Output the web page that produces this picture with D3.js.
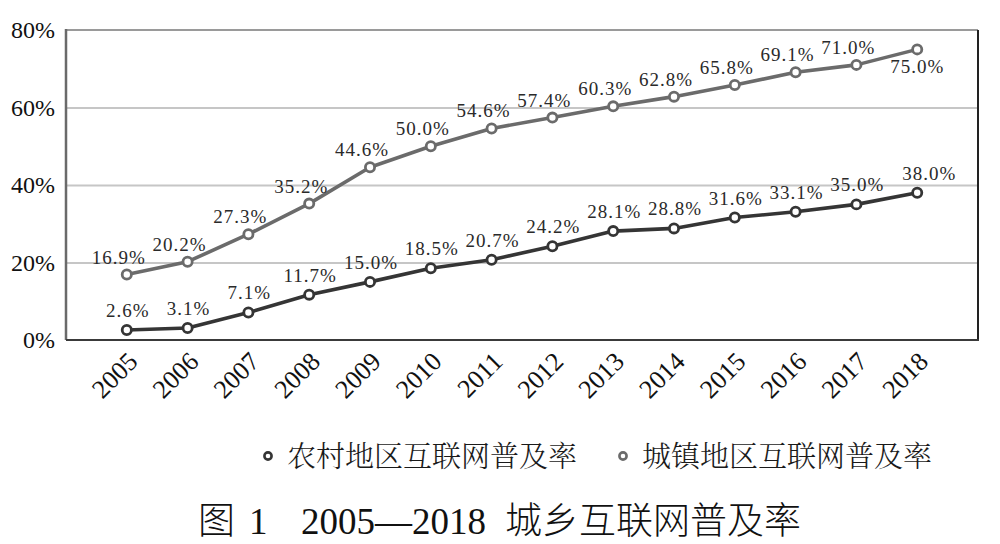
<!DOCTYPE html>
<html>
<head>
<meta charset="utf-8">
<script src="https://cdn.jsdelivr.net/npm/d3@7"></script>
<style>
  html, body { margin: 0; padding: 0; background: #fff; }
  svg { display: block; }
</style>
</head>
<body>
<svg id="chart" width="1000" height="544"></svg>
<script>
const years = ["2005","2006","2007","2008","2009","2010","2011","2012","2013","2014","2015","2016","2017","2018"];
const rural = [2.6, 3.1, 7.1, 11.7, 15.0, 18.5, 20.7, 24.2, 28.1, 28.8, 31.6, 33.1, 35.0, 38.0];
const urban = [16.9, 20.2, 27.3, 35.2, 44.6, 50.0, 54.6, 57.4, 60.3, 62.8, 65.8, 69.1, 71.0, 75.0];
const yTicks = [0, 20, 40, 60, 80];
const seriesNames = ["农村地区互联网普及率", "城镇地区互联网普及率"];
const titleFig = "图";
const titleNum = "1";
const titleYears = "2005—2018";
const titleText = "城乡互联网普及率";

const svg = d3.select("#chart");
const L = 66, R = 978, T = 30, B = 340;

const x = d3.scalePoint().domain(years).range([L, R]).padding(1);
const y = d3.scaleLinear().domain([0, 80]).range([B, T]);

const serif = "'Liberation Serif', 'DejaVu Serif', serif";
const cjkSerif = "'Noto Serif CJK SC', 'Noto Sans CJK SC', sans-serif";
const cjkSans = "'Noto Sans CJK SC', sans-serif";

// gridlines
const grid = svg.append("g").attr("transform", `translate(${L},0)`)
  .call(d3.axisLeft(y).tickValues(yTicks.filter(v => v > 0 && v < 80)).tickSize(-(R - L)).tickFormat(""));
grid.select(".domain").remove();
grid.selectAll("line").attr("stroke", "#c6c6c6").attr("stroke-width", 2);

// frame
svg.append("line").attr("x1", L).attr("x2", R).attr("y1", T).attr("y2", T).attr("stroke", "#9a9a9a").attr("stroke-width", 2);
svg.append("line").attr("x1", R).attr("x2", R).attr("y1", T).attr("y2", B).attr("stroke", "#222").attr("stroke-width", 2);
svg.append("line").attr("x1", L).attr("x2", L).attr("y1", T - 1).attr("y2", B).attr("stroke", "#6a6a6a").attr("stroke-width", 2.5);
svg.append("line").attr("x1", L).attr("x2", R + 1).attr("y1", B).attr("y2", B).attr("stroke", "#3a3a3a").attr("stroke-width", 2);

// y axis labels
const ya = svg.append("g").attr("transform", `translate(${L},0)`)
  .attr("font-family", serif)
  .call(d3.axisLeft(y).tickValues(yTicks).tickSize(0).tickPadding(11).tickFormat(d => d + "%"));
ya.attr("font-family", serif);
ya.select(".domain").remove();
ya.selectAll("text").attr("font-family", serif).attr("font-size", 24).attr("fill", "#111").attr("dy", "0.32em");

// x axis labels
const xa = svg.append("g").attr("transform", `translate(0,${B})`)
  .call(d3.axisBottom(x).tickSize(0).tickFormat(d => d));
xa.attr("font-family", serif);
xa.select(".domain").remove();
xa.selectAll("text")
  .attr("font-family", serif).attr("font-size", 26).attr("fill", "#111")
  .attr("text-anchor", "end").attr("dy", null).attr("y", null)
  .attr("transform", "translate(12,23) rotate(-45)");

const series = [
  { name: seriesNames[0], values: rural, color: "#353535", labelDx: 1, labelDy: -13 },
  { name: seriesNames[1], values: urban, color: "#6b6b6b", labelDx: -8, labelDy: -11 }
];

const line = d3.line().x((d, i) => x(years[i])).y(d => y(d));

series.slice().reverse().forEach(s => {
  svg.append("path").datum(s.values).attr("d", line)
    .attr("fill", "none").attr("stroke", s.color).attr("stroke-width", 3.6).attr("stroke-linejoin", "round");
  svg.append("g").selectAll("circle").data(s.values).join("circle")
    .attr("cx", (d, i) => x(years[i])).attr("cy", d => y(d)).attr("r", 4.6)
    .attr("fill", "#fff").attr("stroke", s.color).attr("stroke-width", 2.8);
});

// data labels
series.forEach((s, si) => {
  svg.append("g").selectAll("text").data(s.values).join("text")
    .attr("x", (d, i) => {
      const last = i === s.values.length - 1;
      if (last) return x(years[i]) + (si === 0 ? 12 : 0);
      return x(years[i]) + s.labelDx;
    })
    .attr("y", (d, i) => {
      const last = i === s.values.length - 1;
      if (last && si === 1) return y(d) + 24;
      return y(d) + s.labelDy;
    })
    .attr("text-anchor", "middle")
    .attr("font-family", serif).attr("font-size", 19).attr("letter-spacing", "1px")
    .attr("fill", "#2a2a2a")
    .text(d => d.toFixed(1) + "%");
});

// legend
const legendX = [268, 623];
series.forEach((s, i) => {
  const g = svg.append("g").attr("transform", `translate(${legendX[i]},456)`);
  g.append("circle").attr("r", 3.6).attr("fill", "#fff").attr("stroke", s.color).attr("stroke-width", 2.6);
  g.append("text").attr("x", 19).attr("y", 11)
    .attr("font-family", cjkSerif).attr("font-size", 29).attr("font-weight", 300)
    .attr("fill", "#1a1a1a").text(s.name);
});

// title
const title = svg.append("text").attr("y", 534).attr("fill", "#111").attr("font-size", 37);
title.append("tspan").attr("x", 198).attr("font-family", cjkSans).attr("font-weight", 300).text(titleFig);
title.append("tspan").attr("x", 249).attr("font-family", serif).text(titleNum);
title.append("tspan").attr("x", 301).attr("font-family", serif).text(titleYears);
title.append("tspan").attr("x", 505).attr("font-family", cjkSans).attr("font-weight", 300).text(titleText);
</script>
</body>
</html>
